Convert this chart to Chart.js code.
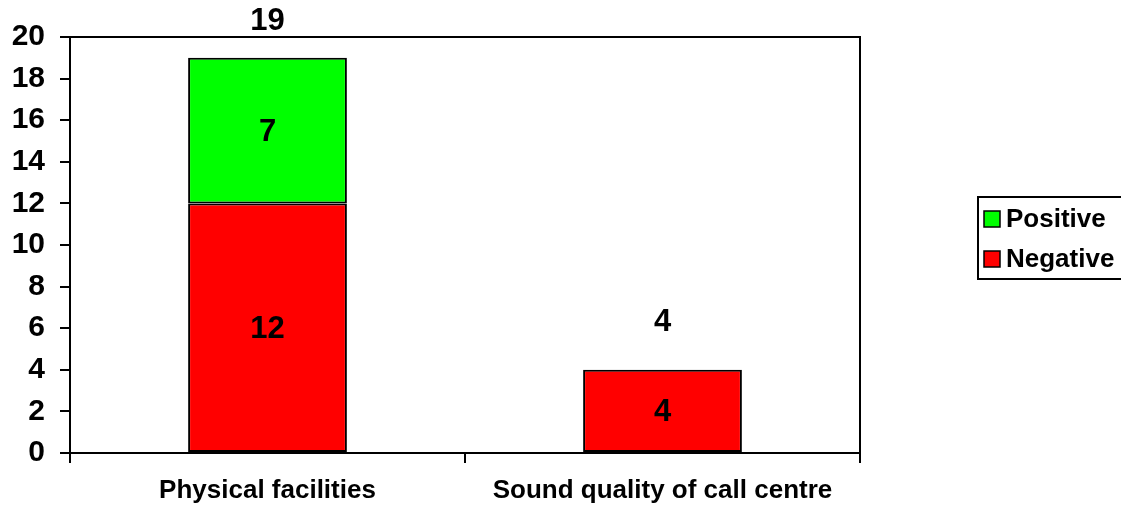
<!DOCTYPE html>
<html>
<head>
<meta charset="utf-8">
<script src="https://cdn.jsdelivr.net/npm/chart.js@4/dist/chart.umd.min.js"></script>
<style>
  body { margin: 0; background: #fff; }
  #wrap { width: 1121px; height: 509px; }
</style>
</head>
<body>
<div id="wrap"><canvas id="myChart" width="1121" height="509"></canvas></div>
<script>
// chart data
var categories = ["Physical facilities", "Sound quality of call centre"];
var negative = [12, 4];
var positive = [7, 0];
var totals = [19, 4];
var yTicks = [0, 2, 4, 6, 8, 10, 12, 14, 16, 18, 20];

var FONT = "'Liberation Sans', Arial, sans-serif";

// numbers inside bars + totals above + frame + legend
var extras = {
  id: "extras",
  afterDatasetsDraw: function(chart) {
    var ctx = chart.ctx;
    var area = chart.chartArea;
    ctx.save();
    // frame top and right
    ctx.strokeStyle = "#000";
    ctx.lineWidth = 2;
    ctx.beginPath();
    ctx.moveTo(area.left, area.top);
    ctx.lineTo(area.right, area.top);
    ctx.lineTo(area.right, area.bottom);
    ctx.stroke();

    ctx.fillStyle = "#000";
    ctx.font = "bold 31px " + FONT;
    ctx.textAlign = "center";
    ctx.textBaseline = "middle";
    chart.data.datasets.forEach(function(ds, di) {
      var meta = chart.getDatasetMeta(di);
      meta.data.forEach(function(bar, i) {
        if (!ds.data[i]) return;
        var p = bar.getProps(["x", "y", "base"], true);
        ctx.fillText(ds.data[i], p.x, (p.y + p.base) / 2 + 2);
      });
    });
    // totals
    var yScale = chart.scales.y;
    var meta0 = chart.getDatasetMeta(0);
    totals.forEach(function(t, i) {
      var x = meta0.data[i].x;
      var y = Math.max(yScale.getPixelForValue(t) - 47, 21);
      ctx.fillText(t, x, y);
    });

    // legend
    ctx.lineWidth = 2;
    ctx.strokeRect(978, 197, 160, 82);
    ctx.font = "bold 26px " + FONT;
    ctx.textAlign = "left";
    var items = chart.data.datasets.slice().reverse();
    items.forEach(function(ds, k) {
      var cy = 219 + k * 40;
      ctx.fillStyle = ds.backgroundColor;
      ctx.fillRect(984, cy - 8, 16, 16);
      ctx.lineWidth = 1.5;
      ctx.strokeRect(984, cy - 8, 16, 16);
      ctx.fillStyle = "#000";
      ctx.fillText(ds.label, 1006, cy + 1);
    });
    ctx.restore();
  }
};

var myChart = new Chart(document.getElementById("myChart").getContext("2d"), {
  type: "bar",
  data: {
    labels: categories,
    datasets: [
      {
        label: "Negative",
        data: negative,
        backgroundColor: "#FF0000",
        borderColor: "#000",
        borderWidth: 2,
        borderSkipped: false
      },
      {
        label: "Positive",
        data: positive,
        backgroundColor: "#00FF00",
        borderColor: "#000",
        borderWidth: 2,
        borderSkipped: false
      }
    ]
  },
  options: {
    responsive: false,
    animation: false,
    layout: { padding: { top: 37, right: 261, left: 0, bottom: 0 } },
    datasets: { bar: { barPercentage: 0.402, categoryPercentage: 1 } },
    plugins: {
      legend: { display: false },
      tooltip: { enabled: false }
    },
    scales: {
      x: {
        stacked: true,
        afterFit: function(s) { s.height = 56; },
        grid: { drawOnChartArea: false, offset: true, tickLength: 10, color: "#000", lineWidth: 2 },
        border: { color: "#000", width: 2 },
        ticks: { color: "#000", padding: 12, font: { family: FONT, size: 26, weight: "bold" } }
      },
      y: {
        stacked: true,
        min: 0,
        max: 20,
        afterFit: function(s) { s.width = 70; },
        afterBuildTicks: function(s) { s.ticks = yTicks.map(function(v) { return { value: v }; }); },
        grid: { drawOnChartArea: false, tickLength: 10, color: "#000", lineWidth: 2 },
        border: { color: "#000", width: 2 },
        ticks: { color: "#000", padding: 15, font: { family: FONT, size: 30, weight: "bold" } }
      }
    }
  },
  plugins: [extras]
});
</script>
</body>
</html>
